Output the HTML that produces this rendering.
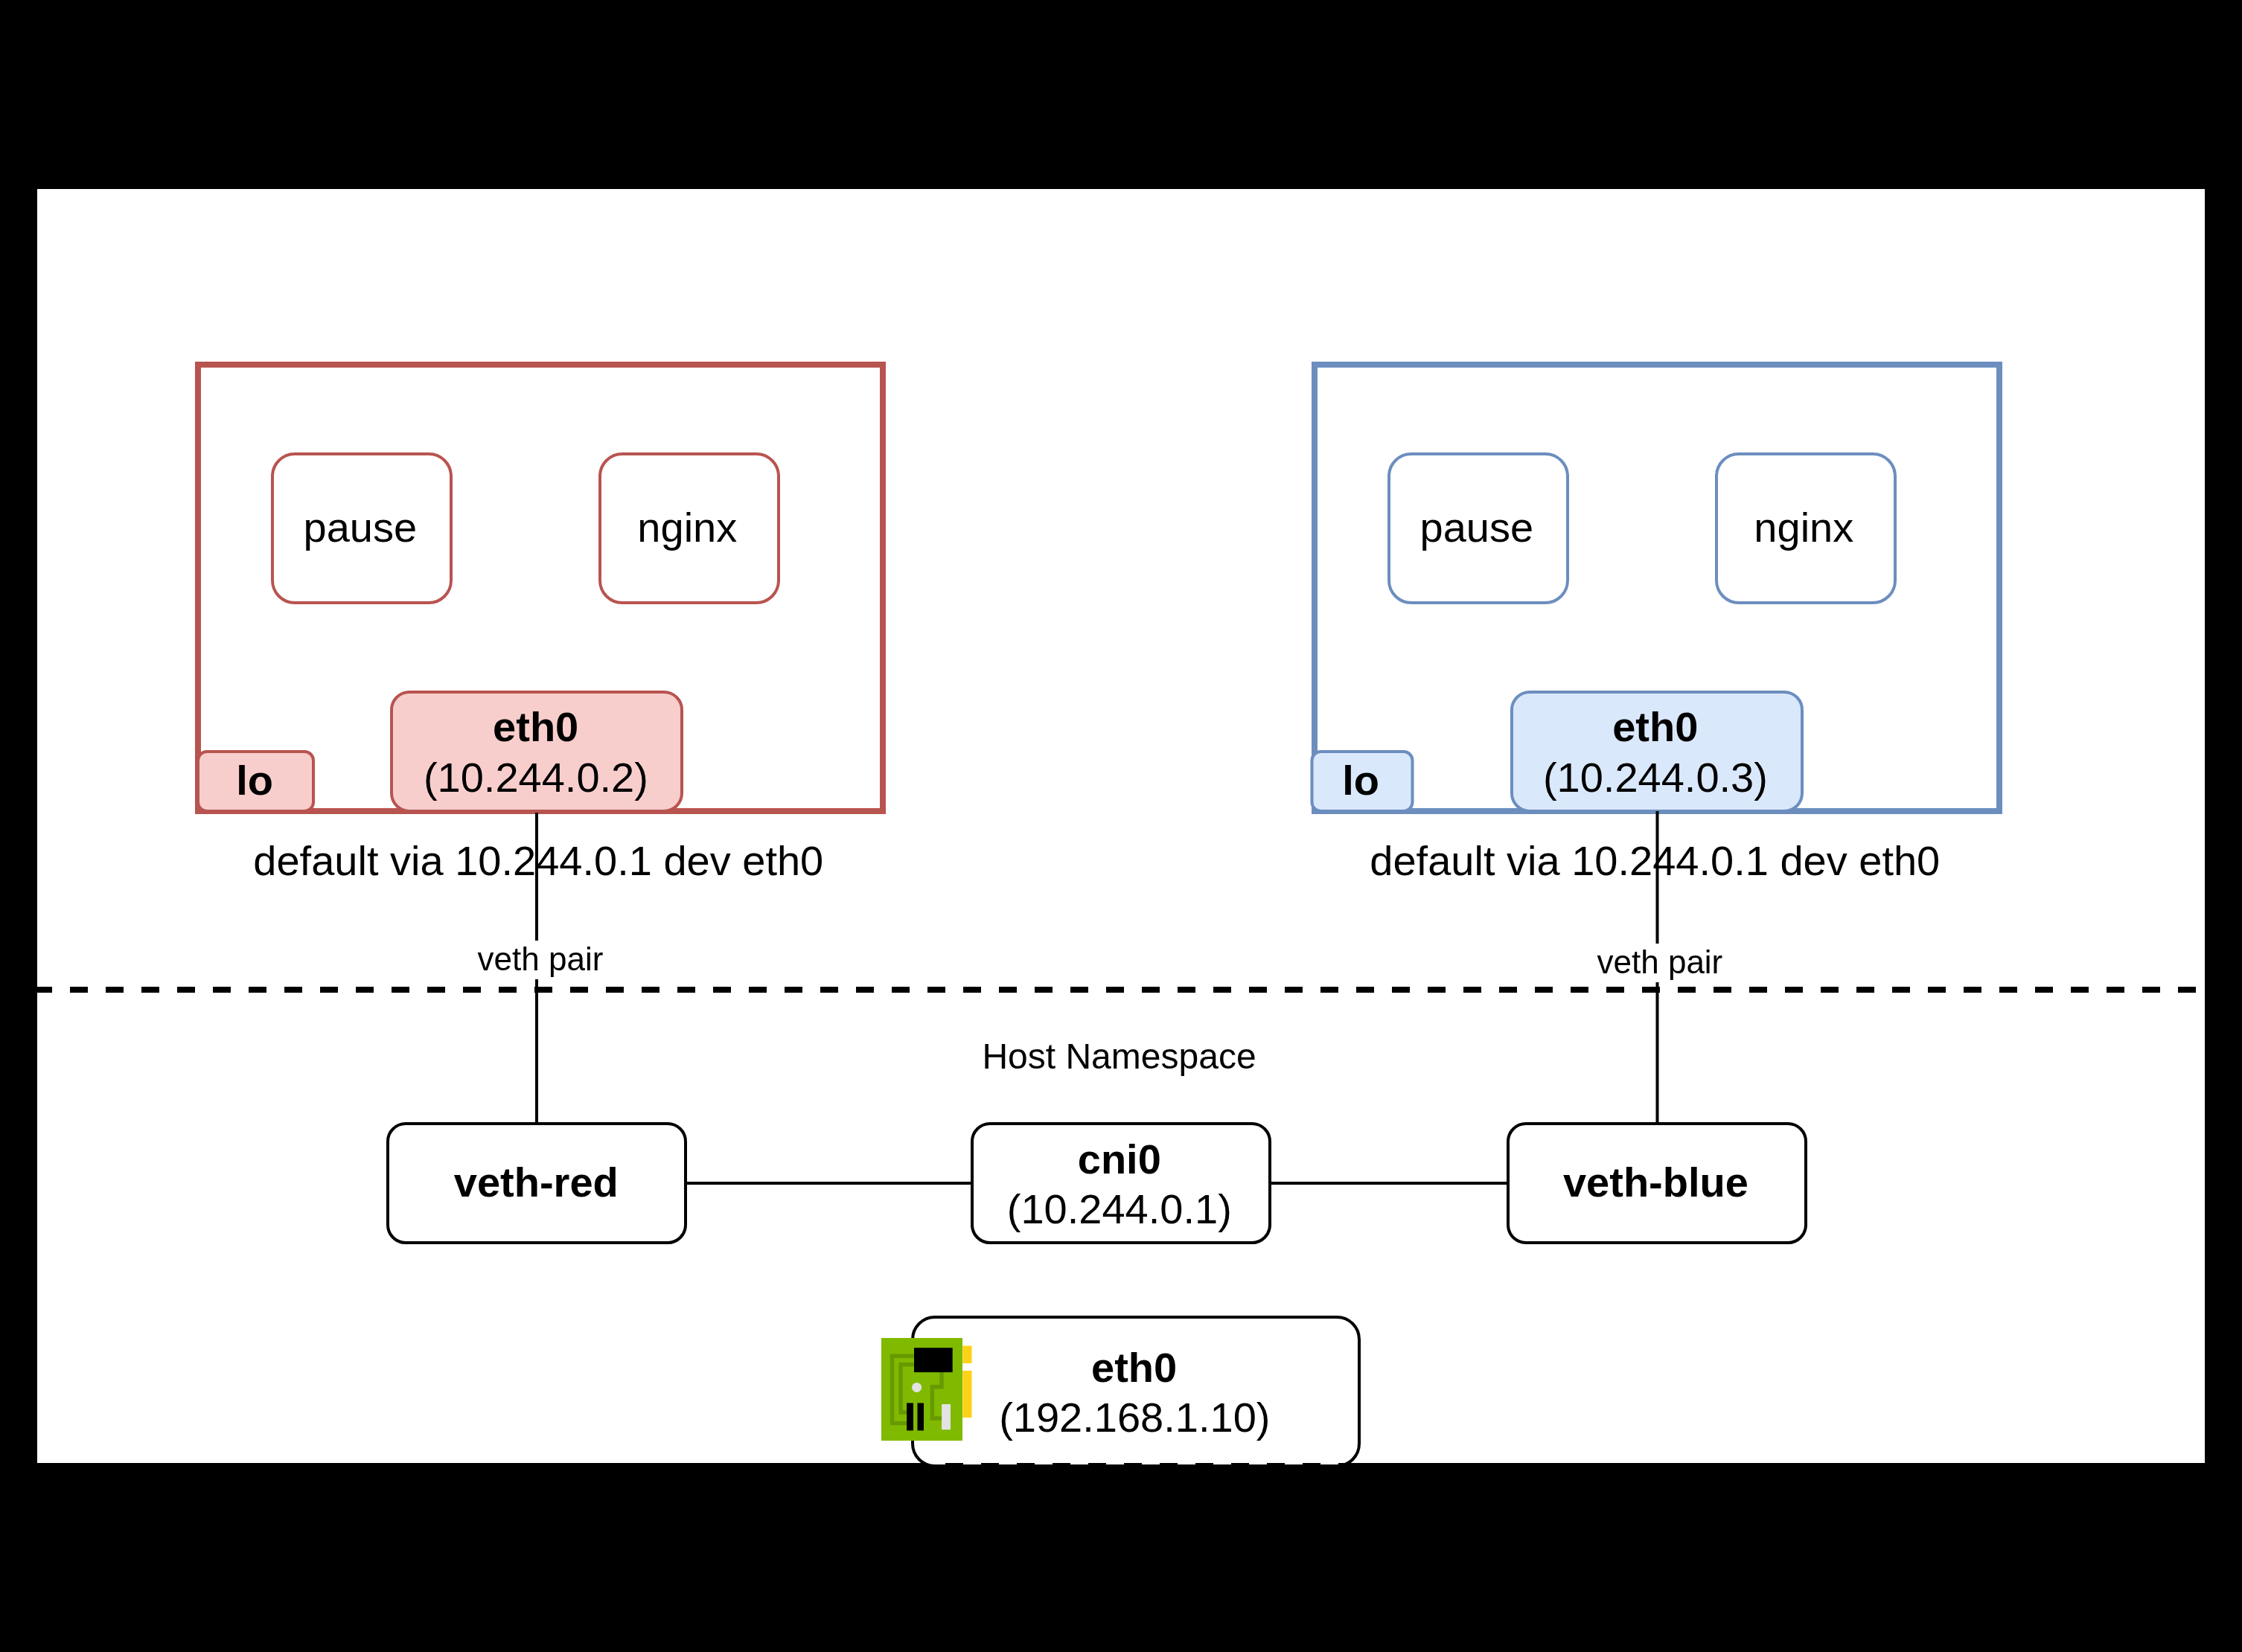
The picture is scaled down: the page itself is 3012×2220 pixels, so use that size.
<!DOCTYPE html>
<html><head><meta charset="utf-8">
<style>
html,body{margin:0;padding:0;background:#000000;}
body{width:3012px;height:2220px;overflow:hidden;}
svg{display:block;will-change:transform;}
text{font-family:"Liberation Sans",sans-serif;}
</style></head>
<body>
<svg width="3012" height="2220" viewBox="0 0 3012 2220">
<rect x="50" y="254" width="2912" height="1712" fill="#ffffff"/>
<rect x="266" y="490" width="920" height="600" fill="#ffffff" stroke="#b85450" stroke-width="8"/>
<rect x="1766" y="490" width="920" height="600" fill="#ffffff" stroke="#6c8ebf" stroke-width="8"/>
<path d="M396,610 L576,610 A30,30 0 0 1 606,640 L606,780 A30,30 0 0 1 576,810 L396,810 A30,30 0 0 1 366,780 L366,640 A30,30 0 0 1 396,610 Z" fill="#ffffff" stroke="#b85450" stroke-width="4"/>
<path d="M836,610 L1016,610 A30,30 0 0 1 1046,640 L1046,780 A30,30 0 0 1 1016,810 L836,810 A30,30 0 0 1 806,780 L806,640 A30,30 0 0 1 836,610 Z" fill="#ffffff" stroke="#b85450" stroke-width="4"/>
<path d="M1896,610 L2076,610 A30,30 0 0 1 2106,640 L2106,780 A30,30 0 0 1 2076,810 L1896,810 A30,30 0 0 1 1866,780 L1866,640 A30,30 0 0 1 1896,610 Z" fill="#ffffff" stroke="#6c8ebf" stroke-width="4"/>
<path d="M2336,610 L2516,610 A30,30 0 0 1 2546,640 L2546,780 A30,30 0 0 1 2516,810 L2336,810 A30,30 0 0 1 2306,780 L2306,640 A30,30 0 0 1 2336,610 Z" fill="#ffffff" stroke="#6c8ebf" stroke-width="4"/>
<path d="M278,1010 L409,1010 A12,12 0 0 1 421,1022 L421,1078 A12,12 0 0 1 409,1090 L278,1090 A12,12 0 0 1 266,1078 L266,1022 A12,12 0 0 1 278,1010 Z" fill="#f8cecc" stroke="#b85450" stroke-width="4"/>
<path d="M550,930 L892,930 A24,24 0 0 1 916,954 L916,1066 A24,24 0 0 1 892,1090 L550,1090 A24,24 0 0 1 526,1066 L526,954 A24,24 0 0 1 550,930 Z" fill="#f8cecc" stroke="#b85450" stroke-width="4"/>
<path d="M1774.5,1010 L1885.5,1010 A12,12 0 0 1 1897.5,1022 L1897.5,1078 A12,12 0 0 1 1885.5,1090 L1774.5,1090 A12,12 0 0 1 1762.5,1078 L1762.5,1022 A12,12 0 0 1 1774.5,1010 Z" fill="#dae8fc" stroke="#6c8ebf" stroke-width="4"/>
<path d="M2055,930 L2397,930 A24,24 0 0 1 2421,954 L2421,1066 A24,24 0 0 1 2397,1090 L2055,1090 A24,24 0 0 1 2031,1066 L2031,954 A24,24 0 0 1 2055,930 Z" fill="#dae8fc" stroke="#6c8ebf" stroke-width="4"/>
<g fill="#000000">
<text id="t_pause_r" x="483.80" y="728.00" font-size="56" text-anchor="middle">pause</text>
<text id="t_nginx_r" x="923.30" y="728.00" font-size="56" text-anchor="middle">nginx</text>
<text id="t_pause_b" x="1983.80" y="728.00" font-size="56" text-anchor="middle">pause</text>
<text id="t_nginx_b" x="2423.30" y="728.00" font-size="56" text-anchor="middle">nginx</text>
<text id="t_lo_r" x="342.10" y="1068.00" font-size="56" font-weight="bold" text-anchor="middle">lo</text>
<text id="t_lo_b" x="1828.10" y="1068.00" font-size="56" font-weight="bold" text-anchor="middle">lo</text>
<text id="t_eth_r1" x="719.70" y="996.00" font-size="56" font-weight="bold" text-anchor="middle">eth0</text>
<text id="t_eth_r2" x="719.90" y="1064.00" font-size="56" text-anchor="middle">(10.244.0.2)</text>
<text id="t_eth_b1" x="2223.80" y="996.00" font-size="56" font-weight="bold" text-anchor="middle">eth0</text>
<text id="t_eth_b2" x="2223.90" y="1064.00" font-size="56" text-anchor="middle">(10.244.0.3)</text>
<text id="t_dflt_r" x="723.30" y="1176.00" font-size="56" text-anchor="middle">default via 10.244.0.1 dev eth0</text>
<text id="t_dflt_b" x="2223.30" y="1176.00" font-size="56" text-anchor="middle">default via 10.244.0.1 dev eth0</text>
<text id="t_vp_r" x="726.00" y="1304.00" font-size="44" text-anchor="middle">veth pair</text>
<text id="t_vp_b" x="2229.90" y="1308.00" font-size="44" text-anchor="middle">veth pair</text>
<text id="t_host" x="1503.50" y="1436.00" font-size="48" text-anchor="middle">Host Namespace</text>
</g>
<g stroke="#000000" stroke-width="4" fill="none">
<path d="M721,1092 V1264 M721,1316 V1510"/>
<path d="M2226.5,1090 V1268 M2226.5,1320 V1510"/>
<path d="M921,1590 H1306 M1706,1590 H2026"/>
</g>
<path d="M46,1330 H2998" stroke="#000000" stroke-width="8" stroke-dasharray="24 24" fill="none"/>
<path d="M545,1510 L897,1510 A24,24 0 0 1 921,1534 L921,1646 A24,24 0 0 1 897,1670 L545,1670 A24,24 0 0 1 521,1646 L521,1534 A24,24 0 0 1 545,1510 Z" fill="#ffffff" stroke="#000000" stroke-width="4"/>
<path d="M1330,1510 L1682,1510 A24,24 0 0 1 1706,1534 L1706,1646 A24,24 0 0 1 1682,1670 L1330,1670 A24,24 0 0 1 1306,1646 L1306,1534 A24,24 0 0 1 1330,1510 Z" fill="#ffffff" stroke="#000000" stroke-width="4"/>
<path d="M2050,1510 L2402,1510 A24,24 0 0 1 2426,1534 L2426,1646 A24,24 0 0 1 2402,1670 L2050,1670 A24,24 0 0 1 2026,1646 L2026,1534 A24,24 0 0 1 2050,1510 Z" fill="#ffffff" stroke="#000000" stroke-width="4"/>
<text id="t_vred" x="720.30" y="1608.00" font-size="56" font-weight="bold" text-anchor="middle">veth-red</text>
<text id="t_vblue" x="2224.40" y="1608.00" font-size="56" font-weight="bold" text-anchor="middle">veth-blue</text>
<text id="t_cni1" x="1503.80" y="1576.50" font-size="56" font-weight="bold" text-anchor="middle">cni0</text>
<text id="t_cni2" x="1503.80" y="1644.00" font-size="56" text-anchor="middle">(10.244.0.1)</text>
<path d="M1256,1770 L1796,1770 A30,30 0 0 1 1826,1800 L1826,1940 A30,30 0 0 1 1796,1970 L1256,1970 A30,30 0 0 1 1226,1940 L1226,1800 A30,30 0 0 1 1256,1770 Z" fill="#ffffff" stroke="#000000" stroke-width="4"/>
<text id="t_heth1" x="1523.60" y="1857.00" font-size="56" font-weight="bold" text-anchor="middle">eth0</text>
<text id="t_heth2" x="1524.30" y="1924.00" font-size="56" text-anchor="middle">(192.168.1.10)</text>
<path d="M22,1970 H2998" stroke="#000000" stroke-width="8" stroke-dasharray="24 24" fill="none"/>
<g>
<rect x="1184" y="1798" width="109" height="138" fill="#80ba00"/>
<rect x="1293.3" y="1808.5" width="12.2" height="23.5" fill="#fcd217"/>
<rect x="1293.3" y="1842" width="12.2" height="63" fill="#fcd217"/>
<g stroke="#669a00" stroke-width="5.5" fill="none">
<path d="M1228,1822.3 H1198.55 V1912.6 H1219"/>
<path d="M1228,1833.8 H1210.1 V1897.9 H1219"/>
<path d="M1265,1843 V1863.75 H1252.35 V1905.9 H1266"/>
</g>
<rect x="1228" y="1811.2" width="51.7" height="32.9" fill="#000000"/>
<rect x="1218.1" y="1885.4" width="8.9" height="37" fill="#000000"/>
<rect x="1232.5" y="1885.4" width="8.5" height="37" fill="#000000"/>
<rect x="1265.1" y="1887" width="11.9" height="34.2" fill="#e3e3e3"/>
<circle cx="1231.6" cy="1864.4" r="6.5" fill="#e3e3e3"/>
</g>
</svg>
</body></html>
